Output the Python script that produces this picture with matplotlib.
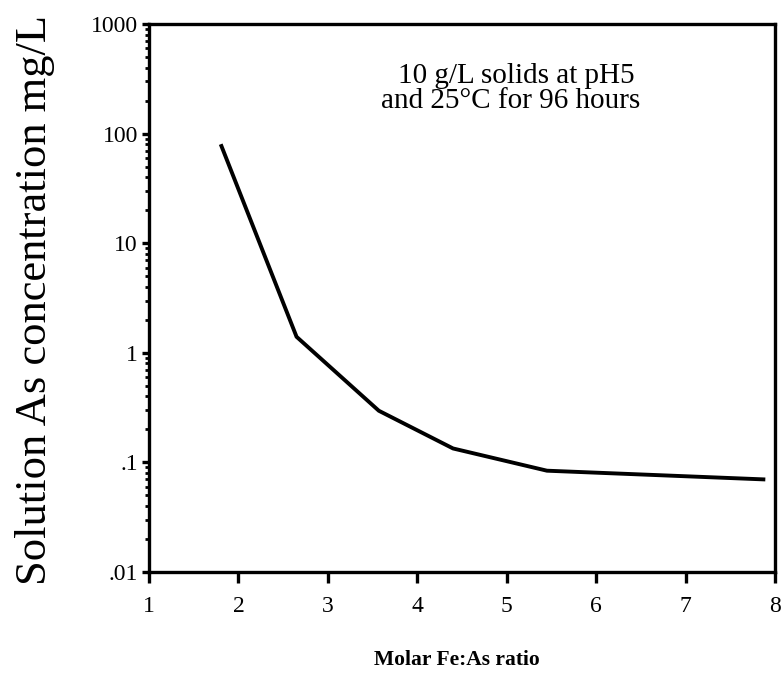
import matplotlib
matplotlib.use("Agg")
import matplotlib.pyplot as plt
from matplotlib.ticker import FixedLocator, LogLocator, NullFormatter

# Data
fe_as_ratio = [1.81, 2.65, 3.57, 4.40, 5.45, 7.87]
as_conc = [77, 1.40, 0.296, 0.134, 0.084, 0.070]

x_ticks = [1, 2, 3, 4, 5, 6, 7, 8]
y_ticks = [0.01, 0.1, 1, 10, 100, 1000]
y_tick_labels = [".01", ".1", "1", "10", "100", "1000"]

plt.rcParams['font.family'] = ['Liberation Serif', 'DejaVu Serif']

W, H = 781, 677
fig = plt.figure(figsize=(W / 100, H / 100), dpi=100)
ax = fig.add_axes([149 / W, 1 - 572 / H, (775 - 149) / W, (572 - 24) / H])

ax.plot(fe_as_ratio, as_conc, color='black', linewidth=2.8, solid_joinstyle='miter')

ax.set_yscale('log')
ax.set_xlim(1, 8)
ax.set_ylim(0.01, 1000)

ax.xaxis.set_major_locator(FixedLocator(x_ticks))
ax.set_xticklabels([str(v) for v in x_ticks], fontsize=17)
ax.yaxis.set_major_locator(FixedLocator(y_ticks))
ax.set_yticklabels(y_tick_labels, fontsize=17)
ax.yaxis.set_minor_locator(LogLocator(base=10, subs=range(2, 10)))
ax.yaxis.set_minor_formatter(NullFormatter())

for s in ax.spines.values():
    s.set_linewidth(2.4)

ax.tick_params(axis='x', which='major', direction='out', length=8, width=2.4, pad=9)
ax.tick_params(axis='y', which='major', direction='out', length=5, width=2.4, pad=3)
ax.tick_params(axis='y', which='minor', direction='out', length=3, width=2.0)

fig.text(35 / W, 1 - 300 / H, "Solution As concentration mg/L", rotation=90,
         ha='center', va='center', fontsize=32)
fig.text(457 / W, 1 - 660 / H, "Molar Fe:As ratio", ha='center', va='center',
         fontsize=15.5, fontweight='bold')

fig.text(516 / W, 1 - 76 / H, "10 g/L solids at pH5", ha='center', va='center', fontsize=21)
fig.text(511 / W, 1 - 101 / H, "and 25°C for 96 hours", ha='center', va='center', fontsize=21)

fig.savefig("out.png", dpi=100)
